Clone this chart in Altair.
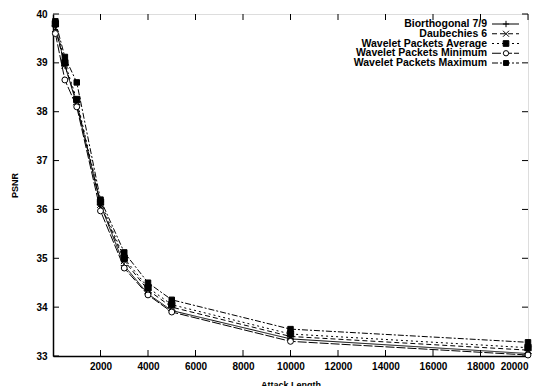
import altair as alt
import pandas as pd

attack_length = [100, 500, 1000, 2000, 3000, 4000, 5000, 10000, 20000]
series_names = ["Biorthogonal 7/9", "Daubechies 6", "Wavelet Packets Average",
                "Wavelet Packets Minimum", "Wavelet Packets Maximum"]
bior = [39.75, 38.95, 38.15, 36.10, 34.85, 34.27, 33.93, 33.35, 33.05]
daub = [39.70, 38.95, 38.20, 36.10, 34.95, 34.35, 34.00, 33.40, 33.12]
wp_avg = [39.80, 39.00, 38.25, 36.15, 35.00, 34.40, 34.05, 33.45, 33.17]
wp_min = [39.60, 38.65, 38.10, 35.97, 34.80, 34.25, 33.90, 33.30, 33.02]
wp_max = [39.85, 39.12, 38.60, 36.20, 35.12, 34.50, 34.15, 33.55, 33.28]
x_ticks = [2000, 4000, 6000, 8000, 10000, 12000, 14000, 16000, 18000, 20000]
y_ticks = [33, 34, 35, 36, 37, 38, 39, 40]

rows = []
for name, vals in zip(series_names, [bior, daub, wp_avg, wp_min, wp_max]):
    for x, y in zip(attack_length, vals):
        rows.append({"Attack Length": x, "PSNR": y, "Series": name})
df = pd.DataFrame(rows)
legend_df = pd.DataFrame({"Series": series_names, "row": list(range(len(series_names)))})

dashes = [[1, 0], [5, 3], [2, 3], [9, 2], [6, 2, 2, 2]]
shapes = ["M-1,0L1,0M0,-1L0,1", "M-1,-1L1,1M-1,1L1,-1", "square", "circle", "square"]
fills = ["transparent", "transparent", "black", "white", "black"]
sizes = [50, 30, 14, 30, 40]
leg_sizes = [40, 24, 10, 24, 24]

font = "Liberation Sans"

xs = alt.Scale(domain=[0, 20000], nice=False)
ys = alt.Scale(domain=[33, 40], nice=False)
dash_scale = alt.Scale(domain=series_names, range=dashes)
shape_scale = alt.Scale(domain=series_names, range=shapes)
fill_scale = alt.Scale(domain=series_names, range=fills)
size_scale = alt.Scale(domain=series_names, range=sizes)
leg_y = alt.Scale(domain=[0, len(series_names) - 1], range=[10, 49], nice=False, zero=False)

lines = alt.Chart(df).mark_line(color="black", strokeWidth=1).encode(
    x=alt.X("Attack Length:Q", scale=xs,
            axis=alt.Axis(values=x_ticks, format="d", title="Attack Length", grid=False,
                          tickSize=0, labelPadding=5, labelFontSize=10,
                          titleFontSize=9, titlePadding=9, domainColor="black",
                          domainWidth=1.5, labelColor="black", titleColor="black",
                          labelFont=font, titleFont=font, labelFontWeight="bold",
                          titleFontWeight="bold")),
    y=alt.Y("PSNR:Q", scale=ys,
            axis=alt.Axis(values=y_ticks, title="PSNR", grid=False, tickSize=0,
                          labelPadding=6, labelFontSize=10, titleFontSize=9,
                          titlePadding=16, domainColor="black", domainWidth=1.5,
                          labelColor="black", titleColor="black", labelFont=font,
                          titleFont=font, labelFontWeight="bold",
                          titleFontWeight="bold")),
    strokeDash=alt.StrokeDash("Series:N", scale=dash_scale, legend=None),
    detail="Series:N",
)

points = alt.Chart(df).mark_point(color="black", strokeWidth=1, opacity=1).encode(
    x=alt.X("Attack Length:Q", scale=xs),
    y=alt.Y("PSNR:Q", scale=ys),
    shape=alt.Shape("Series:N", scale=shape_scale, legend=None),
    fill=alt.Fill("Series:N", scale=fill_scale, legend=None),
    size=alt.Size("Series:N", scale=size_scale, legend=None),
)

tick_df = pd.DataFrame({"v": y_ticks})
xtick_df = pd.DataFrame({"v": x_ticks})
yt_left = alt.Chart(tick_df).mark_rule(color="black").encode(
    y=alt.Y("v:Q", scale=ys), x=alt.value(0), x2=alt.value(6))
yt_right = alt.Chart(tick_df).mark_rule(color="black").encode(
    y=alt.Y("v:Q", scale=ys), x=alt.value(475), x2=alt.value(469))
xt_bot = alt.Chart(xtick_df).mark_rule(color="black").encode(
    x=alt.X("v:Q", scale=xs), y=alt.value(342), y2=alt.value(336))
xt_top = alt.Chart(xtick_df).mark_rule(color="black").encode(
    x=alt.X("v:Q", scale=xs), y=alt.value(0), y2=alt.value(6))

data_layer = alt.layer(yt_left, yt_right, xt_bot, xt_top, lines, points)

leg_text = alt.Chart(legend_df).mark_text(
    align="right", baseline="middle", font=font, fontSize=10.5, fontWeight="bold", color="black"
).encode(
    y=alt.Y("row:Q", scale=leg_y, axis=None),
    x=alt.value(434),
    text="Series:N",
)
leg_line = alt.Chart(legend_df).mark_rule(color="black", strokeWidth=1).encode(
    y=alt.Y("row:Q", scale=leg_y, axis=None),
    x=alt.value(439), x2=alt.value(466),
    strokeDash=alt.StrokeDash("Series:N", scale=dash_scale, legend=None),
)
leg_pt = alt.Chart(legend_df).mark_point(color="black", strokeWidth=1, opacity=1).encode(
    y=alt.Y("row:Q", scale=leg_y, axis=None),
    x=alt.value(453),
    shape=alt.Shape("Series:N", scale=shape_scale, legend=None),
    fill=alt.Fill("Series:N", scale=fill_scale, legend=None),
    size=alt.Size("Series:N", scale=alt.Scale(domain=series_names, range=leg_sizes),
                  legend=None),
)
legend_layer = alt.layer(leg_line, leg_pt, leg_text).resolve_scale(size="independent")

chart = alt.layer(data_layer, legend_layer).resolve_scale(
    y="independent", size="independent"
).properties(
    width=475, height=342,
    autosize=alt.AutoSizeParams(type="none"),
    padding={"left": 45, "top": 6, "right": 12, "bottom": 30},
).configure_view(stroke="black", strokeWidth=1.5).configure(background="white")

chart.save("out.html", embed_options={"renderer": "svg", "actions": False})
